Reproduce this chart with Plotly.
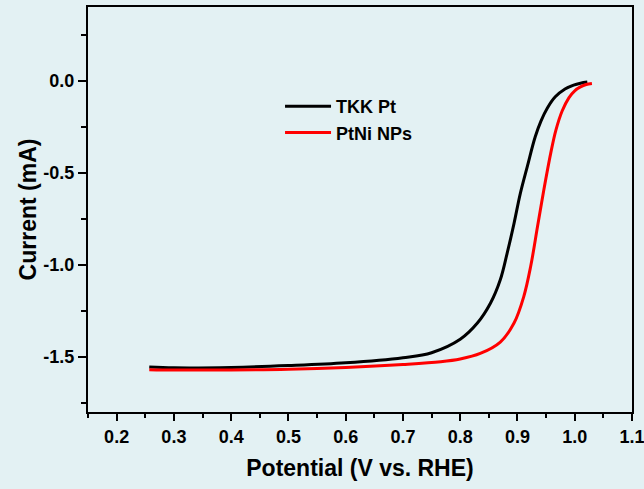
import plotly.graph_objects as go

# ---- data ----
tkk_potential = [0.257, 0.30, 0.40, 0.50, 0.60, 0.70, 0.75, 0.80, 0.83, 0.853, 0.870,
                 0.882, 0.894, 0.905, 0.917, 0.931, 0.941, 0.952, 0.966, 0.983, 0.998, 1.010, 1.022]
tkk_current = [-1.556, -1.560, -1.558, -1.548, -1.533, -1.505, -1.478, -1.405, -1.317, -1.208, -1.082,
               -0.937, -0.775, -0.612, -0.468, -0.305, -0.220, -0.150, -0.088, -0.045, -0.024, -0.014, -0.008]

ptni_potential = [0.257, 0.30, 0.40, 0.50, 0.60, 0.70, 0.766, 0.80, 0.835, 0.870, 0.894,
                  0.911, 0.923, 0.935, 0.946, 0.958, 0.967, 0.978, 0.990, 1.000, 1.010, 1.020, 1.030]
ptni_current = [-1.570, -1.572, -1.572, -1.568, -1.558, -1.542, -1.527, -1.512, -1.482, -1.420, -1.317,
                -1.173, -1.010, -0.793, -0.594, -0.395, -0.270, -0.165, -0.092, -0.055, -0.034, -0.021, -0.015]

series_names = ["TKK Pt", "PtNi NPs"]

x_tickvals = [0.2, 0.3, 0.4, 0.5, 0.6, 0.7, 0.8, 0.9, 1.0, 1.1]
x_ticktext = ["0.2", "0.3", "0.4", "0.5", "0.6", "0.7", "0.8", "0.9", "1.0", "1.1"]
y_tickvals = [0.0, -0.5, -1.0, -1.5]
y_ticktext = ["0.0", "-0.5", "-1.0", "-1.5"]

BG = "#e3f1f3"
FONT = "Liberation Sans, Arial, sans-serif"

fig = go.Figure()
fig.add_trace(go.Scatter(x=tkk_potential, y=tkk_current, mode="lines", name=series_names[0],
                         line=dict(color="black", width=3, shape="spline", smoothing=1.0)))
fig.add_trace(go.Scatter(x=ptni_potential, y=ptni_current, mode="lines", name=series_names[1],
                         line=dict(color="#ff0000", width=3, shape="spline", smoothing=1.0)))

axis_common = dict(
    showgrid=False, zeroline=False, showline=True, linecolor="black", linewidth=2,
    mirror=True, ticks="outside", tickcolor="black", tickwidth=2, automargin=False,
    ticklabeloverflow="allow",
    tickfont=dict(family=FONT, size=18, color="black", weight="bold"),
)

fig.update_xaxes(
    range=[0.15, 1.1], tickvals=x_tickvals, ticktext=x_ticktext, ticklen=7,
    minor=dict(ticks="outside", dtick=0.05, tick0=0.0, ticklen=4, tickwidth=2, tickcolor="black"),
    title=dict(text="Potential (V vs. RHE)", standoff=14,
               font=dict(family=FONT, size=23, color="black", weight="bold")),
    **axis_common,
)
fig.update_yaxes(
    range=[-1.8, 0.4], tickvals=y_tickvals, ticktext=y_ticktext, ticklen=8,
    minor=dict(ticks="outside", dtick=0.25, tick0=0.0, ticklen=5, tickwidth=2, tickcolor="black"),
    title=dict(text="Current (mA)", standoff=0,
               font=dict(family=FONT, size=23, color="black", weight="bold")),
    **axis_common,
)

fig.update_layout(
    width=644, height=489,
    margin=dict(l=88, r=12, t=7, b=77),
    paper_bgcolor=BG, plot_bgcolor=BG,
    showlegend=True,
    legend=dict(x=0.353, y=0.80, xanchor="left", yanchor="top", bgcolor="rgba(0,0,0,0)",
                itemwidth=46, tracegroupgap=0,
                font=dict(family=FONT, size=18, color="black", weight="bold")),
)

fig.write_html("out.html", config={"displayModeBar": False},
               post_script="document.body.style.margin='0';document.body.style.background='%s';" % BG)
